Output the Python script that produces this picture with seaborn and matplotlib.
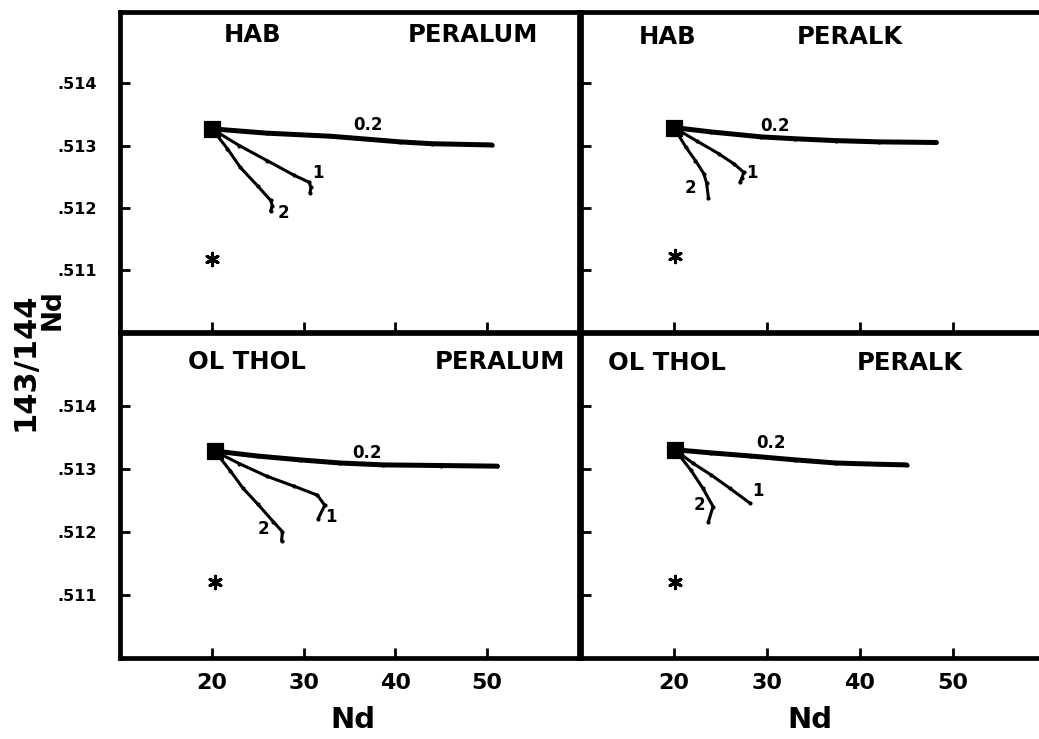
import numpy as np
import pandas as pd
import matplotlib
matplotlib.use("Agg")
import matplotlib.pyplot as plt
import seaborn as sns

# ---------------- data ----------------
panel_left_titles = ["HAB", "HAB", "OL THOL", "OL THOL"]
panel_right_titles = ["PERALUM", "PERALK", "PERALUM", "PERALK"]
curve_labels = ["0.2", "1", "2"]
x_ticks = [20, 30, 40, 50]
y_ticks = [0.511, 0.512, 0.513, 0.514]
y_tick_labels = [".511", ".512", ".513", ".514"]

# HAB / PERALUM
hab_peralum_02_x = [20, 26, 33, 40.5, 44, 50.5]
hab_peralum_02_y = [0.51327, 0.51320, 0.51315, 0.51306, 0.51303, 0.51301]
hab_peralum_1_x = [20, 23, 26, 29, 30.6, 30.8, 30.7]
hab_peralum_1_y = [0.51327, 0.51300, 0.51276, 0.51252, 0.51241, 0.51233, 0.51224]
hab_peralum_2_x = [20, 21.7, 23.1, 25, 26.4, 26.6, 26.4]
hab_peralum_2_y = [0.51327, 0.51295, 0.51265, 0.51235, 0.51212, 0.51203, 0.51195]

# HAB / PERALK
hab_peralk_02_x = [20, 24, 29.4, 33, 37.4, 42, 48.2]
hab_peralk_02_y = [0.51329, 0.51322, 0.51314, 0.51311, 0.51308, 0.51306, 0.51305]
hab_peralk_1_x = [20, 22.5, 24.8, 26.5, 27.5, 27.3, 27.1]
hab_peralk_1_y = [0.51329, 0.51307, 0.51287, 0.51270, 0.51257, 0.51248, 0.51241]
hab_peralk_2_x = [20, 21.3, 22.3, 23.2, 23.5, 23.7]
hab_peralk_2_y = [0.51329, 0.51297, 0.51276, 0.51255, 0.51240, 0.51216]

# OL THOL / PERALUM
olthol_peralum_02_x = [20.3, 25, 29.6, 34, 38.7, 45, 51.1]
olthol_peralum_02_y = [0.51328, 0.51320, 0.51314, 0.51309, 0.51306, 0.51305, 0.51304]
olthol_peralum_1_x = [20.3, 23, 26, 29, 31.5, 32.3, 31.6]
olthol_peralum_1_y = [0.51328, 0.51308, 0.51288, 0.51272, 0.51258, 0.51242, 0.51221]
olthol_peralum_2_x = [20.3, 22, 23.4, 25, 26.7, 27.7, 27.6]
olthol_peralum_2_y = [0.51328, 0.51297, 0.51269, 0.51244, 0.51216, 0.51200, 0.51186]

# OL THOL / PERALK
olthol_peralk_02_x = [20.1, 24, 28.3, 33, 37.4, 42, 45]
olthol_peralk_02_y = [0.51330, 0.51325, 0.51320, 0.51314, 0.51309, 0.51307, 0.51306]
olthol_peralk_1_x = [20.1, 22, 24, 26, 28.2]
olthol_peralk_1_y = [0.51330, 0.51309, 0.51290, 0.51269, 0.51245]
olthol_peralk_2_x = [20.1, 21.8, 23.1, 24.2, 23.7]
olthol_peralk_2_y = [0.51330, 0.51298, 0.51269, 0.51240, 0.51216]

# starting composition (square) and asterisk point per panel
square_x = [20, 20, 20.3, 20.1]
square_y = [0.51327, 0.51329, 0.51328, 0.51330]
star_x = [20, 20.1, 20.3, 20.1]
star_y = [0.51118, 0.51122, 0.51120, 0.51121]

# label anchor positions per panel for curves 0.2, 1, 2
label_02_x = [37, 30.9, 36.9, 30.4]
label_02_y = [0.51333, 0.51332, 0.51325, 0.51341]
label_1_x = [31.6, 28.4, 33.0, 29.0]
label_1_y = [0.51256, 0.51256, 0.51224, 0.51264]
label_2_x = [27.8, 21.8, 25.6, 22.7]
label_2_y = [0.51192, 0.51232, 0.51205, 0.51242]

curves = [
    [(hab_peralum_02_x, hab_peralum_02_y), (hab_peralum_1_x, hab_peralum_1_y), (hab_peralum_2_x, hab_peralum_2_y)],
    [(hab_peralk_02_x, hab_peralk_02_y), (hab_peralk_1_x, hab_peralk_1_y), (hab_peralk_2_x, hab_peralk_2_y)],
    [(olthol_peralum_02_x, olthol_peralum_02_y), (olthol_peralum_1_x, olthol_peralum_1_y), (olthol_peralum_2_x, olthol_peralum_2_y)],
    [(olthol_peralk_02_x, olthol_peralk_02_y), (olthol_peralk_1_x, olthol_peralk_1_y), (olthol_peralk_2_x, olthol_peralk_2_y)],
]

# ---------------- figure ----------------
sns.set_theme(style="white")
plt.rcParams['font.family'] = ['DejaVu Sans']
plt.rcParams['font.weight'] = 'bold'
plt.rcParams['text.color'] = 'black'
plt.rcParams['axes.labelcolor'] = 'black'
plt.rcParams['xtick.color'] = 'black'
plt.rcParams['ytick.color'] = 'black'
plt.rcParams['axes.edgecolor'] = 'black'

W, H = 1039, 739
fig = plt.figure(figsize=(W / 100, H / 100), dpi=100)
fig.patch.set_facecolor("white")

def px_rect(x0, y0, x1, y1):
    return [x0 / W, 1 - y1 / H, (x1 - x0) / W, (y1 - y0) / H]

rects = [
    px_rect(120, 12, 579, 332),
    px_rect(581, 12, 1046, 332),
    px_rect(120, 333, 579, 658),
    px_rect(581, 333, 1046, 658),
]
lw_frame = 3.4
line_widths = [3.6, 2.2, 2.2]

for i in range(4):
    ax = fig.add_axes(rects[i])
    ax.set_facecolor("white")
    for k, (cx, cy) in enumerate(curves[i]):
        df = pd.DataFrame({"x": cx, "y": cy})
        sns.lineplot(data=df, x="x", y="y", sort=False, estimator=None, ax=ax,
                     color="black", lw=line_widths[k], marker="o",
                     markersize=3, markeredgewidth=0)
    sns.scatterplot(x=[square_x[i]], y=[square_y[i]], marker="s", s=120,
                    color="black", edgecolor="black", ax=ax, zorder=5)
    sns.scatterplot(x=[star_x[i]], y=[star_y[i]], marker=(6, 2, 0), s=80,
                    color="black", edgecolor="black", linewidth=2.2, ax=ax, zorder=5)

    lab_kw = dict(fontsize=12, fontweight="bold", color="black", ha="center", va="center")
    ax.text(label_02_x[i], label_02_y[i], curve_labels[0], **lab_kw)
    ax.text(label_1_x[i], label_1_y[i], curve_labels[1], **lab_kw)
    ax.text(label_2_x[i], label_2_y[i], curve_labels[2], **lab_kw)

    ax.set_xlim(10, 60)
    ax.set_ylim(0.510, 0.51515)
    ax.set_xticks(x_ticks)
    ax.set_yticks(y_ticks)
    ax.set_xlabel("")
    ax.set_ylabel("")
    ax.tick_params(direction="in", length=7, width=2, color="black",
                   top=False, right=False, bottom=True, left=True, pad=17)
    if i in (0, 2):
        ax.set_yticklabels(y_tick_labels, fontsize=11.5, fontweight="bold", color="black")
    else:
        ax.set_yticklabels([])
    if i in (2, 3):
        ax.set_xticklabels([str(t) for t in x_ticks], fontsize=16, fontweight="bold", color="black")
        ax.tick_params(axis="x", pad=11)
    else:
        ax.set_xticklabels([])
    for s in ax.spines.values():
        s.set_visible(True)
        s.set_color("black")
        s.set_linewidth(lw_frame)

    # panel titles
    left_pos = [253, 668, 247, 667][i]
    right_pos = [473, 850, 500, 910][i]
    ypos = [35, 37, 362, 363][i]
    fig.text(left_pos / W, 1 - ypos / H, panel_left_titles[i], fontsize=17.5,
             fontweight="bold", ha="center", va="center", color="black")
    fig.text(right_pos / W, 1 - ypos / H, panel_right_titles[i], fontsize=17.5,
             fontweight="bold", ha="center", va="center", color="black")

# axis labels
fig.text(25 / W, 1 - 362 / H, "143/144", rotation=90, fontsize=22,
         fontweight="bold", ha="center", va="center", color="black")
fig.text(53 / W, 1 - 310 / H, "Nd", rotation=90, fontsize=19,
         fontweight="bold", ha="center", va="center", color="black")
fig.text(353 / W, 1 - 720 / H, "Nd", fontsize=21, fontweight="bold",
         ha="center", va="center", color="black")
fig.text(810 / W, 1 - 720 / H, "Nd", fontsize=21, fontweight="bold",
         ha="center", va="center", color="black")

fig.savefig("out.png", dpi=100, facecolor="white")
